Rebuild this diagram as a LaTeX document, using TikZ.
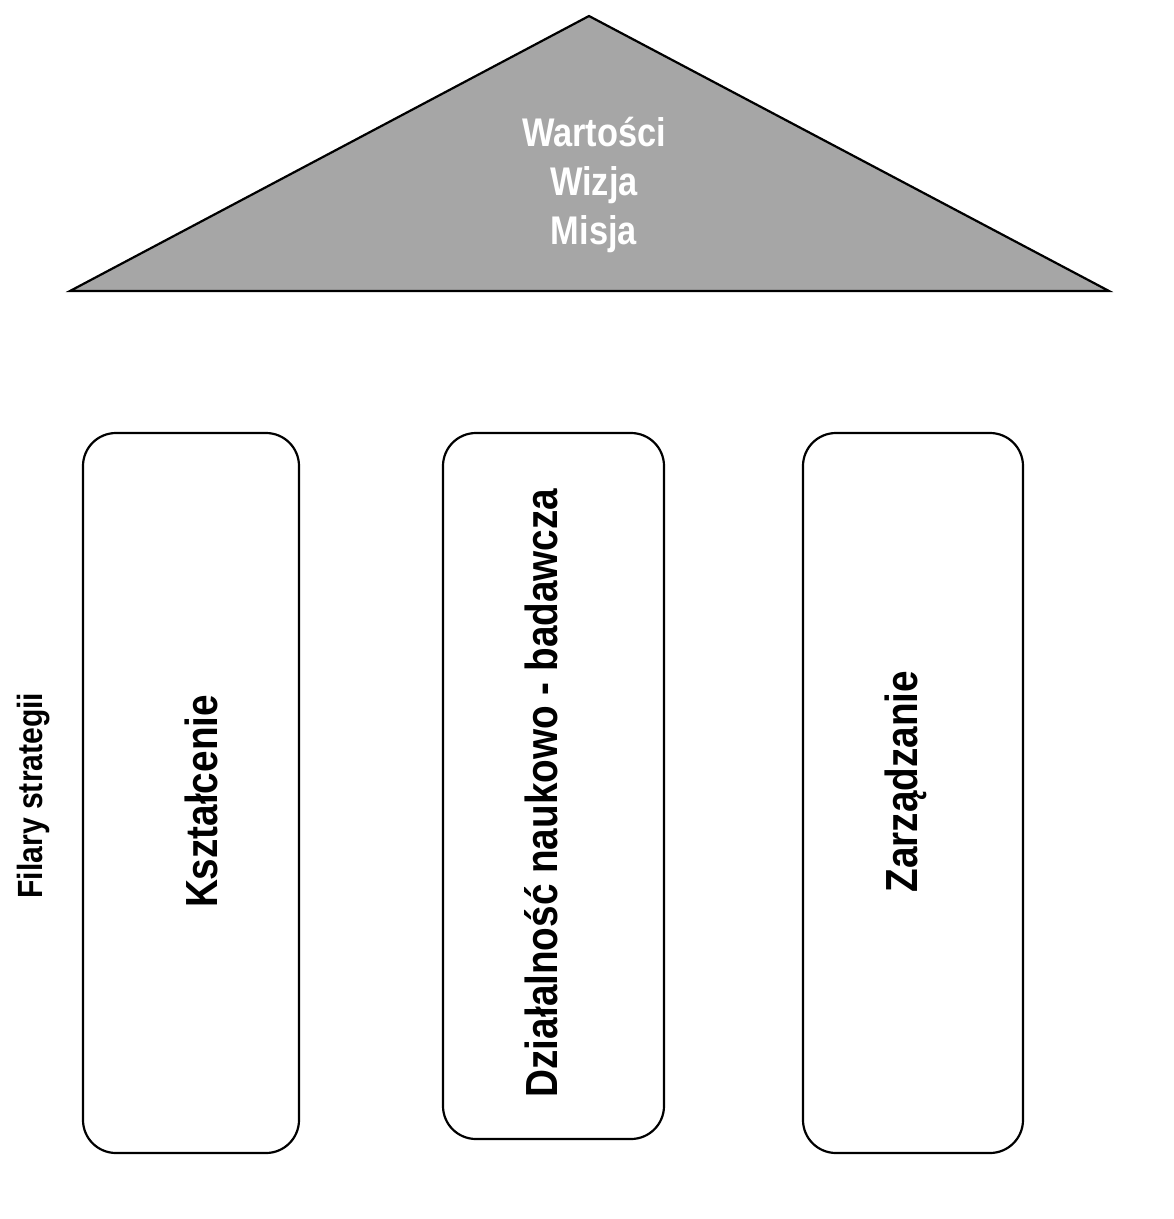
\documentclass[tikz,border=0pt]{standalone}
\usepackage{fontspec}
\setmainfont{Liberation Sans}[FakeStretch=0.86]
\usepackage{tikz}
\usetikzlibrary{positioning,calc}
\definecolor{roofgray}{RGB}{166,166,166}

\begin{document}
\begin{tikzpicture}
[x=1pt,y=-1pt,
pillar/.style={draw,line width=2.2pt,rounded corners=33pt,rectangle,minimum width=#1},
pillar text/.style={rotate=90,anchor=base,font=\bfseries\fontsize{45}{54}\selectfont},
roof text/.style={align=center,text=white,font=\bfseries\fontsize{40}{49}\selectfont}]
\useasboundingbox (0,0) rectangle (1174,1219);
\draw[line width=2.2pt,fill=roofgray,line join=miter] (70,291) -- (589,16) -- (1109,291) -- cycle;
\node[roof text,anchor=base] (roof) at (594,244) {Wartości\\Wizja\\Misja};
% filary
\node[pillar=216pt,minimum height=720pt] (kszt) at (191,793) {};
\node[pillar=221pt,minimum height=706pt] (dzial) at (553.5,786) {};
\node[pillar=220pt,minimum height=720pt] (zarz) at (913,793) {};
\node[pillar text] (kszt text) at (217,801.5) {Kształcenie};
\node[pillar text] (dzial text) at (557,793) {Działalność naukowo - badawcza};
\node[pillar text] (zarz text) at (917,781.5) {Zarządzanie};
\node[rotate=90,anchor=base,font=\bfseries\fontsize{35}{42}\selectfont] (filary) at (42,795.5) {Filary strategii};
\end{tikzpicture}
\end{document}
